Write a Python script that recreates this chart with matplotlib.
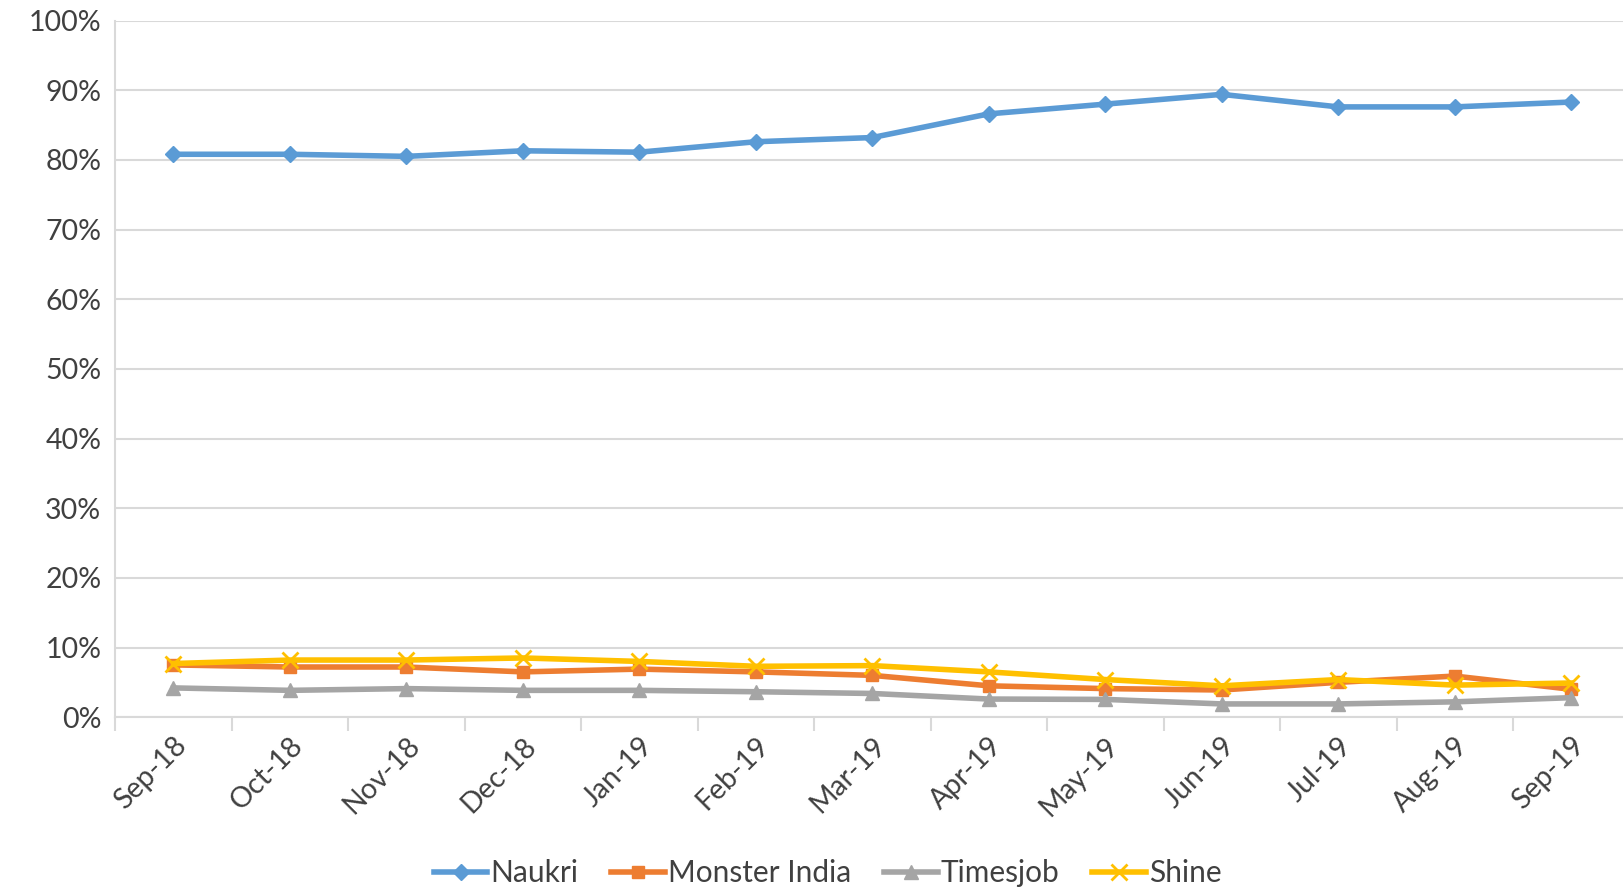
import matplotlib
matplotlib.use("Agg")
import matplotlib.pyplot as plt
from matplotlib.ticker import FixedLocator, PercentFormatter

months = ["Sep-18", "Oct-18", "Nov-18", "Dec-18", "Jan-19", "Feb-19", "Mar-19",
          "Apr-19", "May-19", "Jun-19", "Jul-19", "Aug-19", "Sep-19"]
naukri = [80.8, 80.8, 80.5, 81.3, 81.1, 82.6, 83.2, 86.6, 88.0, 89.4, 87.6, 87.6, 88.3]
monster = [7.5, 7.2, 7.2, 6.5, 6.9, 6.5, 6.0, 4.5, 4.1, 3.9, 5.0, 5.9, 4.0]
timesjob = [4.2, 3.85, 4.1, 3.85, 3.85, 3.65, 3.4, 2.6, 2.55, 1.9, 1.9, 2.2, 2.8]
shine = [7.7, 8.2, 8.2, 8.5, 8.0, 7.3, 7.4, 6.5, 5.4, 4.5, 5.4, 4.6, 4.9]

plt.rcParams["font.family"] = ["Lato", "DejaVu Sans"]

fig = plt.figure(figsize=(16.23, 8.92), dpi=100)
ax = fig.add_axes([0.071, 0.196, 0.933, 0.781])

x = list(range(len(months)))
ax.plot(x, naukri, color="#5B9BD5", lw=4, marker="D", ms=8, label="Naukri")
ax.plot(x, monster, color="#ED7D31", lw=4, marker="s", ms=9, label="Monster India")
ax.plot(x, timesjob, color="#A5A5A5", lw=4, marker="^", ms=10, label="Timesjob")
ax.plot(x, shine, color="#FFC000", lw=4, marker="x", ms=11, mew=2, label="Shine")

ax.set_xlim(-0.5, len(months) - 0.5)
ax.set_ylim(0, 100)
ax.set_yticks(range(0, 101, 10))
ax.yaxis.set_major_formatter(PercentFormatter(decimals=0))
ax.grid(axis="y", color="#D9D9D9", lw=1.5)
ax.set_axisbelow(True)

ax.set_xticks(x)
ax.set_xticklabels(months, rotation=45, ha="right", rotation_mode="anchor")
ax.xaxis.set_minor_locator(FixedLocator([i - 0.5 for i in range(len(months) + 1)]))
ax.tick_params(axis="x", which="major", length=0, labelsize=20.5, colors="#404040", pad=11)
ax.tick_params(axis="x", which="minor", length=10, width=1.5, color="#D9D9D9")
ax.tick_params(axis="y", length=0, labelsize=20.5, colors="#404040", pad=10)

for side in ["top", "right"]:
    ax.spines[side].set_visible(False)
for side in ["left", "bottom"]:
    ax.spines[side].set_color("#D9D9D9")
    ax.spines[side].set_linewidth(1.5)

fig.legend(loc="center", bbox_to_anchor=(0.51, 0.021), ncol=4, frameon=False,
           fontsize=21.5, handlelength=1.8, columnspacing=1.1, handletextpad=0.1,
           labelcolor="#404040")

fig.savefig("out.png", dpi=100)
